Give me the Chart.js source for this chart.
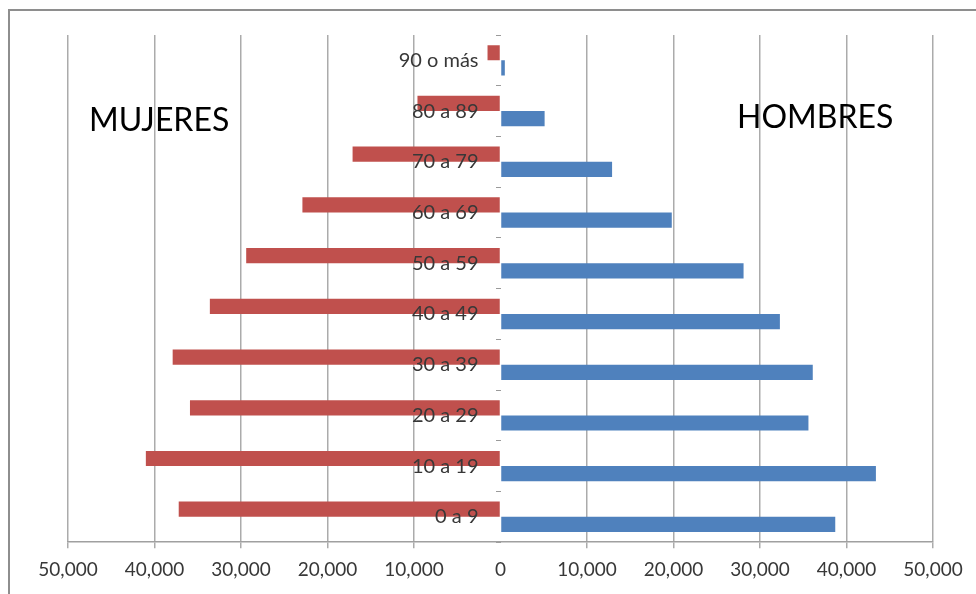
<!DOCTYPE html>
<html>
<head>
<meta charset="utf-8">
<script src="https://cdn.jsdelivr.net/npm/chart.js@4/dist/chart.umd.min.js"></script>
<style>
  html, body { margin: 0; padding: 0; background: #fff; overflow: hidden; }
  #wrap { position: relative; width: 976px; height: 594px; }
  #frame { position: absolute; left: 8px; top: 9px; width: 990px; height: 620px;
           border: 2px solid #8e8e8e; box-sizing: border-box; }
  canvas { position: absolute; left: 0; top: 0; }
  .side { position: absolute; font-family: Lato, "Open Sans", sans-serif; font-size: 32px;
          color: #000; line-height: 1; white-space: nowrap; }
</style>
</head>
<body>
<div id="wrap">
  <div id="frame"></div>
  <canvas id="chart" width="976" height="594"></canvas>
  <div class="side" style="left:89px; top:103px;">MUJERES</div>
  <div class="side" style="left:737px; top:100px;">HOMBRES</div>
</div>
<script>
// Age groups, youngest first
const ageGroups = ['0 a 9', '10 a 19', '20 a 29', '30 a 39', '40 a 49',
                   '50 a 59', '60 a 69', '70 a 79', '80 a 89', '90 o más'];
// Population by age group
const mujeres = [37200, 41000, 35900, 37900, 33600, 29400, 22900, 17100, 9600, 1500];
const hombres = [38700, 43400, 35600, 36100, 32300, 28100, 19800, 12900, 5100, 500];
// Horizontal axis ticks
const axisMin = -50000;
const axisMax = 50000;
const axisStep = 10000;

const textColor = '#383838';

new Chart(document.getElementById('chart'), {
  type: 'bar',
  data: {
    labels: ageGroups,
    datasets: [
      {
        label: 'Mujeres',
        data: mujeres.map(v => -v),
        backgroundColor: '#C0504D',
        borderWidth: 0
      },
      {
        label: 'Hombres',
        data: hombres,
        backgroundColor: '#4F81BD',
        borderWidth: 0
      }
    ]
  },
  options: {
    indexAxis: 'y',
    responsive: false,
    animation: false,
    events: [],
    layout: { padding: { left: 68, right: 43, top: 35, bottom: 3 } },
    datasets: {
      bar: { categoryPercentage: 0.6, barPercentage: 1.0 }
    },
    plugins: {
      legend: { display: false },
      tooltip: { enabled: false }
    },
    scales: {
      x: {
        min: axisMin,
        max: axisMax,
        ticks: {
          stepSize: axisStep,
          padding: 10,
          color: textColor,
          font: { family: 'Lato, "Open Sans", sans-serif', size: 19 },
          callback: v => Math.abs(v).toLocaleString('en-US')
        },
        grid: {
          color: ctx => (ctx.tick && ctx.tick.value === 0) ? 'rgba(0,0,0,0)' : '#ababab',
          lineWidth: 1.5,
          tickLength: 6,
          drawTicks: true
        },
        border: { display: true, color: '#a0a0a0', width: 1.5 }
      },
      y: {
        position: 'center',
        reverse: true,
        ticks: {
          z: 1,
          padding: 17,
          color: textColor,
          font: { family: 'Lato, "Open Sans", sans-serif', size: 20 }
        },
        grid: {
          offset: true,
          drawOnChartArea: false,
          drawTicks: true,
          tickLength: 5,
          color: '#9a9a9a',
          lineWidth: 1
        },
        border: { display: false }
      }
    }
  }
});
</script>
</body>
</html>
